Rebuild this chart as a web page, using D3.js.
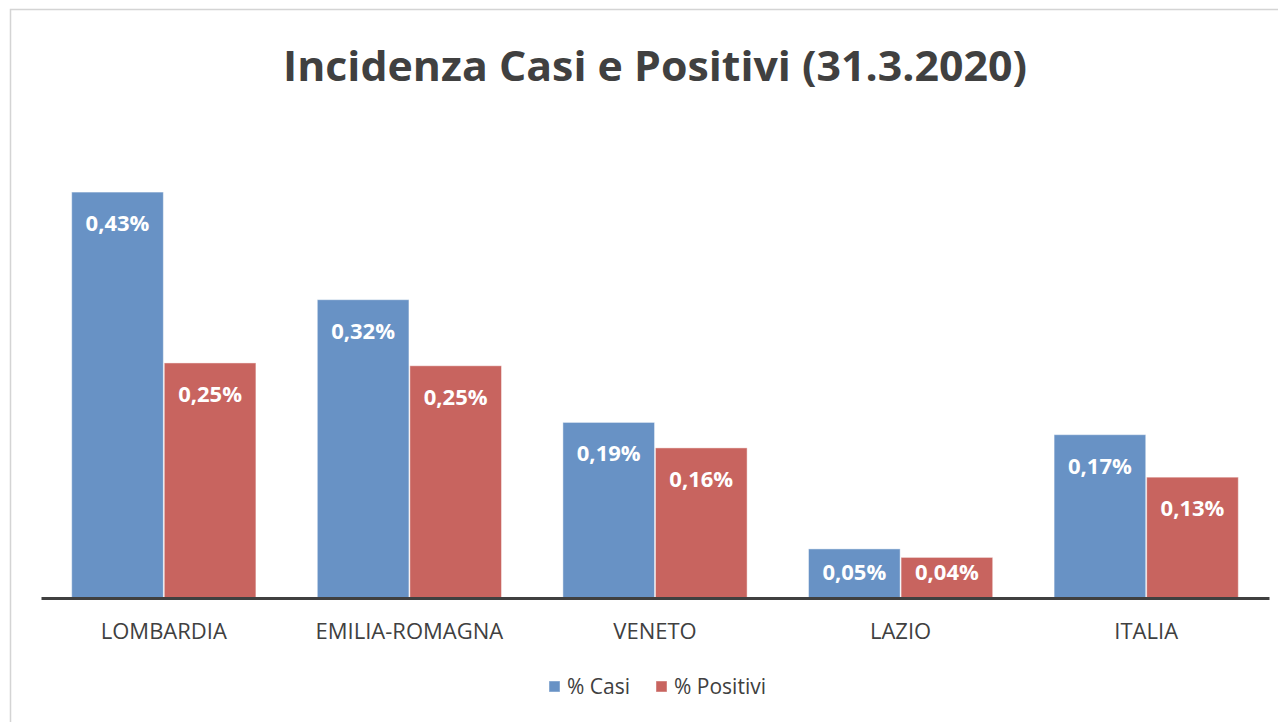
<!DOCTYPE html>
<html>
<head>
<meta charset="utf-8">
<script src="https://cdn.jsdelivr.net/npm/d3@7"></script>
<style>
  body { margin: 0; background: #fff; }
  svg { display: block; font-family: "Open Sans", sans-serif; }
</style>
</head>
<body>
<svg id="chart" width="1278" height="722"></svg>
<script>
// dati
var regioni = ["LOMBARDIA", "EMILIA-ROMAGNA", "VENETO", "LAZIO", "ITALIA"];
var casi = [0.430, 0.316, 0.186, 0.052, 0.173];
var positivi = [0.249, 0.246, 0.159, 0.043, 0.128];
var serie = ["% Casi", "% Positivi"];
var colori = ["#6892c5", "#c8645f"];

var svg = d3.select("#chart");

// bordo dell'area grafico
svg.append("rect")
    .attr("x", 10.5).attr("y", 9.5)
    .attr("width", 1300).attr("height", 740)
    .attr("fill", "none")
    .attr("stroke", "#d4d4d4")
    .attr("stroke-width", 1.5);

// titolo
svg.append("text")
    .attr("x", 655).attr("y", 81)
    .attr("text-anchor", "middle")
    .attr("font-size", 42)
    .attr("font-weight", "bold")
    .attr("fill", "#404040")
    .attr("textLength", 744)
    .attr("lengthAdjust", "spacingAndGlyphs")
    .text("Incidenza Casi e Positivi (31.3.2020)");

var x0 = d3.scaleBand()
    .domain(regioni)
    .range([41, 1269])
    .paddingInner(0.25)
    .paddingOuter(0.125);

var x1 = d3.scaleBand()
    .domain([0, 1])
    .range([0, x0.bandwidth()])
    .paddingInner(0.01);

var y = d3.scaleLinear()
    .domain([0, 0.5])
    .range([598, 126]);

var dati = regioni.map(function(r, i) {
    return { regione: r, valori: [casi[i], positivi[i]] };
});

var gruppi = svg.append("g").selectAll("g")
    .data(dati)
    .enter()
    .append("g")
    .attr("transform", function(d) { return "translate(" + x0(d.regione) + ",0)"; });

gruppi.selectAll("rect")
    .data(function(d) { return d.valori.map(function(v, j) { return { v: v, j: j }; }); })
    .enter()
    .append("rect")
    .attr("x", function(d) { return x1(d.j); })
    .attr("y", function(d) { return y(d.v); })
    .attr("width", x1.bandwidth())
    .attr("height", function(d) { return y(0) - y(d.v); })
    .attr("fill", function(d) { return colori[d.j]; })
    .attr("stroke", "#ffffff")
    .attr("stroke-opacity", 0.45)
    .attr("stroke-width", 1);

// etichette dentro le barre (non piu' in basso della base - 18)
gruppi.selectAll("text")
    .data(function(d) { return d.valori.map(function(v, j) { return { v: v, j: j }; }); })
    .enter()
    .append("text")
    .attr("x", function(d) { return x1(d.j) + x1.bandwidth() / 2; })
    .attr("y", function(d) { return Math.min(y(d.v) + 39, y(0) - 18); })
    .attr("text-anchor", "middle")
    .attr("font-size", 22)
    .attr("font-weight", "bold")
    .attr("fill", "#ffffff")
    .text(function(d) { return d.v.toFixed(2).replace(".", ",") + "%"; });

// asse orizzontale
svg.append("g")
    .attr("transform", "translate(0," + y(0) + ")")
    .call(d3.axisBottom(x0).tickSize(0).tickPadding(25))
    .call(function(g) {
        g.select(".domain").attr("stroke", "#404040").attr("stroke-width", 3);
        g.selectAll("text")
            .attr("font-size", 22)
            .attr("font-family", "Open Sans, sans-serif")
            .attr("fill", "#404040");
    });

// legenda
var legenda = svg.append("g").attr("transform", "translate(549,681)");
var posLeg = [0, 107];
serie.forEach(function(s, i) {
    var g = legenda.append("g").attr("transform", "translate(" + posLeg[i] + ",0)");
    g.append("rect")
        .attr("width", 11).attr("height", 11)
        .attr("fill", colori[i])
        .attr("stroke", "#ffffff").attr("stroke-opacity", 0.45);
    g.append("text")
        .attr("x", 18).attr("y", 6)
        .attr("dy", "0.35em")
        .attr("font-size", 21)
        .attr("fill", "#404040")
        .text(s);
});
</script>
</body>
</html>
